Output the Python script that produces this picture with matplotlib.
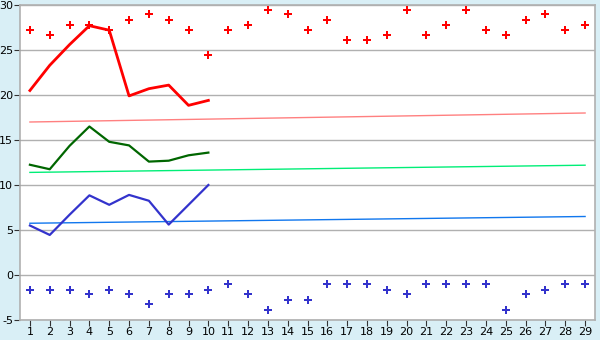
import matplotlib.pyplot as plt
import numpy as np

plt.rcParams['axes.unicode_minus'] = False

days = np.arange(1, 30)
first = np.arange(1, 11)

# upper scatter (red) and lower scatter (blue)
red_pts = [27.2, 26.7, 27.8, 27.8, 27.2, 28.3, 29.0, 28.3, 27.2, 24.4,
           27.2, 27.8, 29.4, 29.0, 27.2, 28.3, 26.1, 26.1, 26.7, 29.4,
           26.7, 27.8, 29.4, 27.2, 26.7, 28.3, 29.0, 27.2, 27.8]
blue_pts = [-1.7, -1.7, -1.7, -2.15, -1.7, -2.15, -3.25, -2.15, -2.15, -1.7,
            -1.05, -2.15, -3.9, -2.8, -2.8, -1.05, -1.05, -1.05, -1.7, -2.15,
            -1.05, -1.05, -1.05, -1.05, -3.9, -2.15, -1.7, -1.05, -1.05]

# lines for the first ten days
red_line = [20.5, 23.3, 25.6, 27.7, 27.2, 19.9, 20.7, 21.1, 18.85, 19.4]
green_line = [12.25, 11.75, 14.35, 16.5, 14.8, 14.4, 12.6, 12.7, 13.3, 13.6]
blue_line = [5.5, 4.45, 6.7, 8.85, 7.8, 8.9, 8.25, 5.6, 7.8, 10.0]

# trend lines, start and end value
trend_x = [1, 29]
red_trend = [17.0, 18.0]
green_trend = [11.4, 12.2]
blue_trend = [5.75, 6.5]

fig = plt.figure(figsize=(6, 3.4), dpi=100)
fig.patch.set_facecolor('#d9eff6')
ax = fig.add_axes([20/600, 20/340, 575/600, 315/340])
ax.set_facecolor('white')

ax.plot(trend_x, red_trend, color='#ff8080', lw=1)
ax.plot(trend_x, green_trend, color='#00ee77', lw=1)
ax.plot(trend_x, blue_trend, color='#1177ee', lw=1)

ax.plot(first, red_line, color='#ff0000', lw=2)
ax.plot(first, green_line, color='#006600', lw=1.6)
ax.plot(first, blue_line, color='#3333cc', lw=1.6)

ax.plot(days, red_pts, ls='none', marker='P', ms=5.5, color='#ff0000', mew=0)
ax.plot(days, blue_pts, ls='none', marker='P', ms=5.5, color='#3333cc', mew=0)

ax.set_xlim(0.5, 29.5)
ax.set_ylim(-5, 30)
ax.set_xticks(days)
ax.set_yticks(np.arange(-5, 31, 5))
ax.yaxis.grid(True, color='#b0b0b0', lw=1)
ax.set_axisbelow(True)
for s in ax.spines.values():
    s.set_color('#b0b0b0')
    s.set_linewidth(1.2)
ax.tick_params(axis='both', length=4, color='#333333', labelsize=8, pad=1)

plt.savefig('out.png', dpi=100, facecolor=fig.get_facecolor())
